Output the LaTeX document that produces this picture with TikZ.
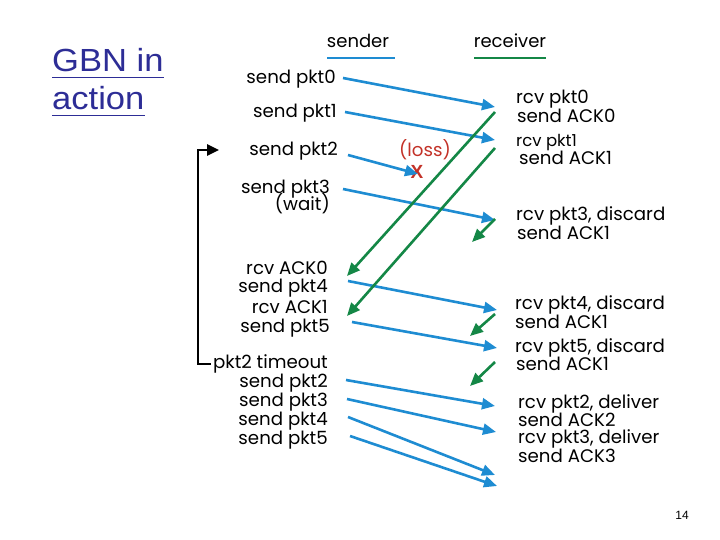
\documentclass[tikz,border=0pt]{standalone}
\usepackage{fontspec}
\setmainfont{Poppins}
\newfontfamily\titlefont{Liberation Sans}
\newfontfamily\titlewide[FakeStretch=1.08]{Liberation Sans}
\usetikzlibrary{arrows.meta}
\definecolor{pktblue}{RGB}{30,140,210}
\definecolor{ackgreen}{RGB}{20,135,70}
\definecolor{lossred}{RGB}{195,50,40}
\definecolor{titleblue}{RGB}{45,45,150}
\begin{document}
\begin{tikzpicture}[x=1pt,y=-1pt,
  lbl/.style={font=\fontsize{18.2}{21}\selectfont, inner sep=0pt},
  snd/.style={lbl, anchor=mid east},
  rcv/.style={lbl, anchor=mid west},
  pkt/.style={draw=pktblue, line width=2.6pt, -{Triangle[length=13pt,width=11pt]}},
  ack/.style={draw=ackgreen, line width=2.6pt, -{Triangle[length=13pt,width=11pt]}},
  head/.style={font=\fontsize{18}{21}\selectfont, inner sep=0pt, anchor=mid},
  uline/.style={line width=2.6pt},
  titletxt/.style={font=\titlewide\fontsize{32}{36}\selectfont, text=titleblue, inner sep=0pt, anchor=base west}]
\useasboundingbox (0,0) rectangle (720,540);
\fill[white] (0,0) rectangle (720,540);

% title
\node[titletxt] (t1) at (52,72) {GBN in};
\node[titletxt] (t2) at (52,110) {action};
\draw[titleblue, line width=1.6pt] (t1.base west) ++(0,5.5) -- ([yshift=-5.5pt]t1.base east);
\draw[titleblue, line width=1.6pt] (t2.base west) ++(0,5.5) -- ([yshift=-5.5pt]t2.base east);

% headers
\node[head] (sender) at (358,45) {sender};
\node[head] (receiver) at (510,45) {receiver};
\draw[uline, pktblue] (327,58) -- (395,58);
\draw[uline, ackgreen] (474,58) -- (546,58);

% sender labels
\node[snd] (s0) at (336,81) {send pkt0};
\node[snd] (s1) at (337,115) {send pkt1};
\node[snd] (s2) at (338,153) {send pkt2};
\node[snd] (s3) at (330,191) {send pkt3};
\node[snd] (sw) at (330,208) {(wait)};
\node[snd] (ra0) at (328,272) {rcv ACK0};
\node[snd] (s4) at (328,290) {send pkt4};
\node[snd] (ra1) at (328,311) {rcv ACK1};
\node[snd] (s5) at (330,330) {send pkt5};
\node[snd] (to) at (328,366) {pkt2 timeout};
\node[snd] (r2) at (328,385) {send pkt2};
\node[snd] (r3) at (328,404) {send pkt3};
\node[snd] (r4) at (328,423) {send pkt4};
\node[snd] (r5) at (328,442) {send pkt5};

% receiver labels
\node[rcv] (q0) at (516,101) {rcv pkt0};
\node[rcv] (k0) at (517,120) {send ACK0};
\node[rcv, font=\fontsize{16.5}{19}\selectfont] (q1) at (516,144) {rcv pkt1};
\node[rcv] (k1) at (519,162) {send ACK1};
\node[rcv] (q3) at (516,218) {rcv pkt3, discard};
\node[rcv] (k1b) at (517,237) {send ACK1};
\node[rcv] (q4) at (515,307) {rcv pkt4, discard};
\node[rcv] (k1c) at (515,326) {send ACK1};
\node[rcv] (q5) at (515,350) {rcv pkt5, discard};
\node[rcv] (k1d) at (516,368) {send ACK1};
\node[rcv] (d2) at (518,406) {rcv pkt2, deliver};
\node[rcv] (k2) at (518,424) {send ACK2};
\node[rcv] (d3) at (518,441) {rcv pkt3, deliver};
\node[rcv] (k3) at (518,460) {send ACK3};

% loss
\node[lbl, text=lossred, anchor=mid] (loss) at (425,154) {(loss)};
\node[inner sep=0pt, text=lossred, font=\titlefont\bfseries\fontsize{19}{22}\selectfont] (xmark) at (417,172) {X};

% arrow end points
\coordinate (a0s) at (343,78);  \coordinate (a0e) at (495,107);
\coordinate (a1s) at (345,112); \coordinate (a1e) at (495,140);
\coordinate (a2s) at (348,155); \coordinate (a2e) at (418,174);
\coordinate (a3s) at (343,189); \coordinate (a3e) at (495,220);
\coordinate (a4s) at (348,281); \coordinate (a4e) at (497,310);
\coordinate (a5s) at (352,322); \coordinate (a5e) at (497,348);
\coordinate (b2s) at (346,380); \coordinate (b2e) at (495,406);
\coordinate (b3s) at (347,399); \coordinate (b3e) at (496,432);
\coordinate (b4s) at (348,417); \coordinate (b4e) at (495,475);
\coordinate (b5s) at (350,436); \coordinate (b5e) at (497,486);

\coordinate (g0s) at (495,112); \coordinate (g0e) at (347,276);
\coordinate (g1s) at (495,148); \coordinate (g1e) at (347,316);
\coordinate (g2s) at (495,219); \coordinate (g2e) at (472,242);
\coordinate (g3s) at (495,314); \coordinate (g3e) at (470,336);
\coordinate (g4s) at (495,362); \coordinate (g4e) at (470,386);

\foreach \p in {a0,a1,a2,a3,a4,a5,b2,b3,b4,b5} \draw[pkt] (\p s) -- (\p e);
\foreach \p in {g0,g1,g2,g3,g4} \draw[ack] (\p s) -- (\p e);

% timeout bracket
\coordinate (bt) at (219,150);
\draw[line width=2.6pt, -{Triangle[length=12pt,width=11pt]}] ([xshift=-2pt]to.west) -| (198,150) -- (bt);

% page number
\node[inner sep=0pt, font=\titlefont\fontsize{12}{14}\selectfont] (pg) at (682,515) {14};
\end{tikzpicture}
\end{document}
